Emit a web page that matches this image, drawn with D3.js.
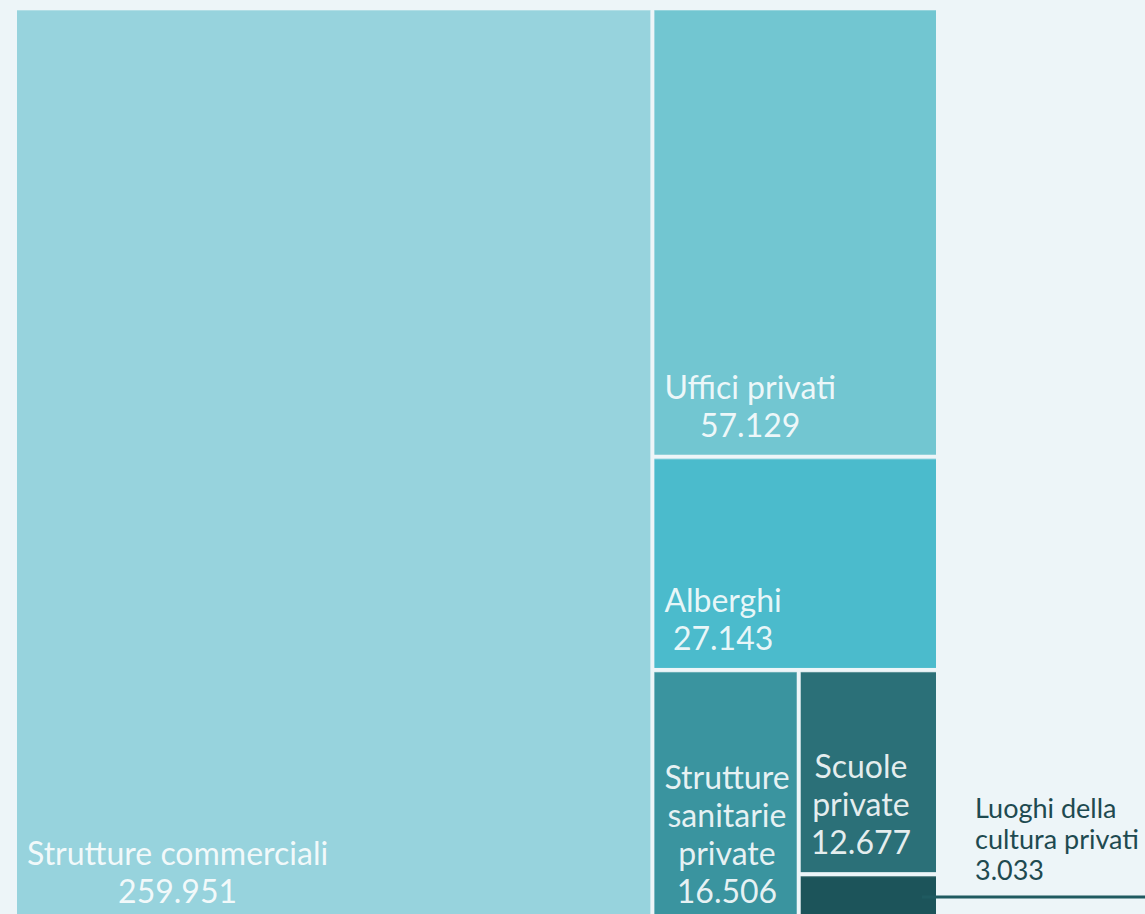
<!DOCTYPE html>
<html>
<head>
<meta charset="utf-8">
<script src="https://cdn.jsdelivr.net/npm/d3@7"></script>
<style>
  html, body { margin: 0; padding: 0; background: #edf5f8; overflow: hidden; }
  svg { display: block; }
</style>
</head>
<body>
<svg id="chart" width="1145" height="914"></svg>
<script>
// Categorie di edifici e relativi valori
const categories = [
  "Strutture commerciali",
  "Uffici privati",
  "Alberghi",
  "Strutture sanitarie private",
  "Scuole private",
  "Luoghi della cultura privati"
];
const values = [259951, 57129, 27143, 16506, 12677, 3033];
const labelLines = [
  ["Strutture commerciali"],
  ["Uffici privati"],
  ["Alberghi"],
  ["Strutture", "sanitarie", "private"],
  ["Scuole", "private"],
  ["Luoghi della", "cultura privati"]
];
const colors = ["#97d3dd", "#72c6d1", "#4bbbcc", "#3a949f", "#2b7078", "#1c545a"];

const fmt = v => d3.format(",")(v).replace(/,/g, ".");

const svg = d3.select("#chart");
const W = 1145;
const marginLeft = 17, marginTop = 10, tw = 919, th = 911;

const items = categories.map((c, i) => ({ name: c, value: values[i], lines: labelLines[i], color: colors[i] }));

// nested grouping so that the tiles alternate direction:
// first item | (second / third / (fourth | (fifth / sixth)))
function nest(list, depth) {
  if (list.length <= 2 && depth % 2 === 1) return { children: list };
  if (depth % 2 === 0) return { children: [list[0], nest(list.slice(1), depth + 1)] };
  return { children: [list[0], list[1], nest(list.slice(2), depth + 1)] };
}
const tree = nest(items, 0);
const root = d3.hierarchy(tree).sum(d => d.children ? 0 : d.value);

d3.treemap()
  .size([tw, th])
  .paddingInner(4)
  .tile((node, x0, y0, x1, y1) => {
    (node.depth % 2 === 0 ? d3.treemapDice : d3.treemapSlice)(node, x0, y0, x1, y1);
  })(root);

const g = svg.append("g").attr("transform", `translate(${marginLeft},${marginTop})`);

const leaves = root.leaves();

const cell = g.selectAll("g.cell").data(leaves).join("g").attr("class", "cell");
cell.append("rect")
  .attr("x", d => d.x0)
  .attr("y", d => d.y0)
  .attr("width", d => d.x1 - d.x0)
  .attr("height", d => d.y1 - d.y0)
  .attr("fill", d => d.data.color);

// thin light edge along the top of each tile
cell.append("line")
  .attr("x1", d => d.x0).attr("x2", d => d.x1)
  .attr("y1", d => d.y0 + 0.5).attr("y2", d => d.y0 + 0.5)
  .attr("stroke", "#ffffff").attr("stroke-opacity", 0.25);

const fontSize = 32, lineH = 38;

leaves.forEach(d => {
  if (d.y1 - d.y0 < 70) return;
  const lines = d.data.lines.concat([fmt(d.data.value)]);
  const t = g.append("text")
    .attr("font-family", "Lato, 'Noto Sans', sans-serif")
    .attr("font-size", fontSize)
    .attr("fill", "#ffffff")
    .attr("fill-opacity", 0.88)
    .attr("text-anchor", "middle");
  const spans = lines.map(l => t.append("tspan").text(l));
  const maxW = d3.max(spans, s => s.node().getComputedTextLength());
  const cx = d.x0 + 10 + maxW / 2;
  const lastBase = d.y1 - 18;
  spans.forEach((s, i) => {
    s.attr("x", cx).attr("y", lastBase - (lines.length - 1 - i) * lineH);
  });
});

// etichetta esterna per la voce più piccola
const small = leaves[leaves.length - 1];
g.append("line")
  .attr("x1", small.x1 - 14)
  .attr("x2", W - marginLeft)
  .attr("y1", 887)
  .attr("y2", 887)
  .attr("stroke", "#1f5a60")
  .attr("stroke-width", 3);

const outLines = small.data.lines.concat([fmt(small.data.value)]);
const ot = g.append("text")
  .attr("font-family", "Lato, 'Noto Sans', sans-serif")
  .attr("font-size", 27)
  .attr("fill", "#1e4a50");
outLines.forEach((l, i) => {
  ot.append("tspan").attr("x", 975 - marginLeft).attr("y", 818 + i * 31 - marginTop).text(l);
});
</script>
</body>
</html>
